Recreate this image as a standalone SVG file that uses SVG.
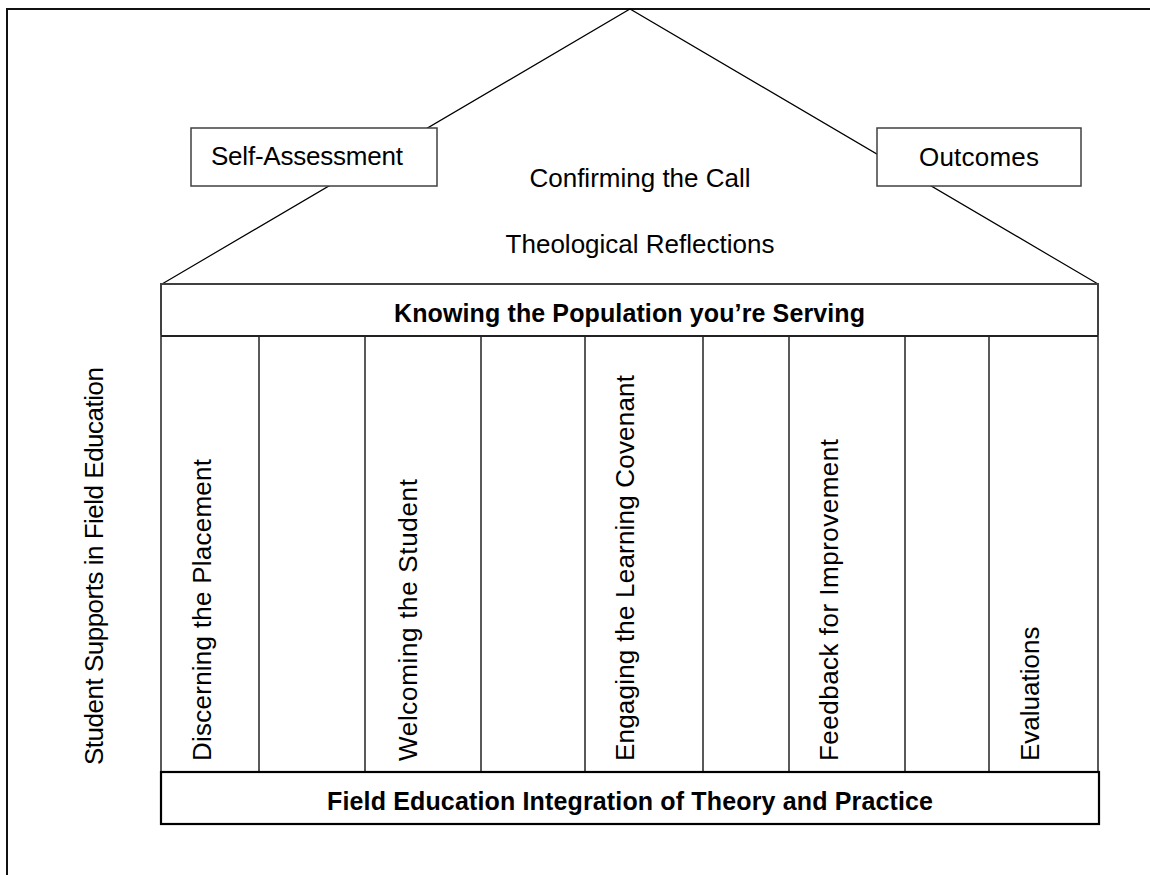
<svg xmlns="http://www.w3.org/2000/svg" width="1150" height="875" viewBox="0 0 1150 875">
<style>
.t{font-family:"Liberation Sans",Arial,sans-serif;font-size:26px;fill:#000}
.b{font-family:"Liberation Sans",Arial,sans-serif;font-size:25px;font-weight:bold;fill:#000}
.box{fill:#fff;stroke:#404040;stroke-width:1.5}
.col{stroke:#595959;stroke-width:2;fill:none}
.roof{stroke:#000;stroke-width:1.2;fill:none}
</style>
<rect x="0" y="0" width="1150" height="875" fill="#fff"/>
<g id="frame">
<path d="M7,875 V9 H1150" fill="none" stroke="#111" stroke-width="2"/>
</g>
<g id="connectors">
<polyline class="roof" points="162,284 630,9 1098,284"/>
</g>
<g id="self-assessment">
<rect class="box" x="191" y="128" width="246" height="58"/>
<text class="t" x="211" y="165" textLength="192">Self-Assessment</text>
</g>
<g id="outcomes">
<rect class="box" x="877" y="128" width="204" height="58"/>
<text class="t" x="919" y="166" textLength="120">Outcomes</text>
</g>
<g id="confirming">
<text class="t" x="640" y="187" text-anchor="middle">Confirming the Call</text>
</g>
<g id="theological">
<text class="t" x="640" y="253" text-anchor="middle">Theological Reflections</text>
</g>
<g id="knowing">
<rect x="161" y="284" width="937" height="52" fill="#fff" stroke="#404040" stroke-width="2"/>
<text class="b" x="629.5" y="321.5" text-anchor="middle" textLength="471">Knowing the Population you’re Serving</text>
</g>
<g id="pillars">
<rect class="col" x="161" y="336" width="937" height="436"/>
<line class="col" x1="259" y1="336" x2="259" y2="772"/>
<line class="col" x1="365" y1="336" x2="365" y2="772"/>
<line class="col" x1="481" y1="336" x2="481" y2="772"/>
<line class="col" x1="585" y1="336" x2="585" y2="772"/>
<line class="col" x1="703" y1="336" x2="703" y2="772"/>
<line class="col" x1="789" y1="336" x2="789" y2="772"/>
<line class="col" x1="905" y1="336" x2="905" y2="772"/>
<line class="col" x1="989" y1="336" x2="989" y2="772"/>
<line x1="161" y1="336" x2="1098" y2="336" stroke="#111" stroke-width="1.5"/>
</g>
<g id="discerning">
<text class="t" transform="translate(211,761) rotate(-90)" textLength="302">Discerning the Placement</text>
</g>
<g id="welcoming">
<text class="t" transform="translate(417,761) rotate(-90)" textLength="282">Welcoming the Student</text>
</g>
<g id="engaging">
<text class="t" transform="translate(634,761) rotate(-90)" textLength="386">Engaging the Learning Covenant</text>
</g>
<g id="feedback">
<text class="t" transform="translate(838,761) rotate(-90)" textLength="322">Feedback for Improvement</text>
</g>
<g id="evaluations">
<text class="t" transform="translate(1039,761) rotate(-90)">Evaluations</text>
</g>
<g id="foundation">
<rect x="161" y="772" width="938" height="52" fill="#fff" stroke="#000" stroke-width="2.2"/>
<text class="b" x="630" y="810" text-anchor="middle" textLength="606">Field Education Integration of Theory and Practice</text>
</g>
<g id="side-label">
<text class="t" transform="translate(103,765) rotate(-90)" textLength="398">Student Supports in Field Education</text>
</g>
</svg>
